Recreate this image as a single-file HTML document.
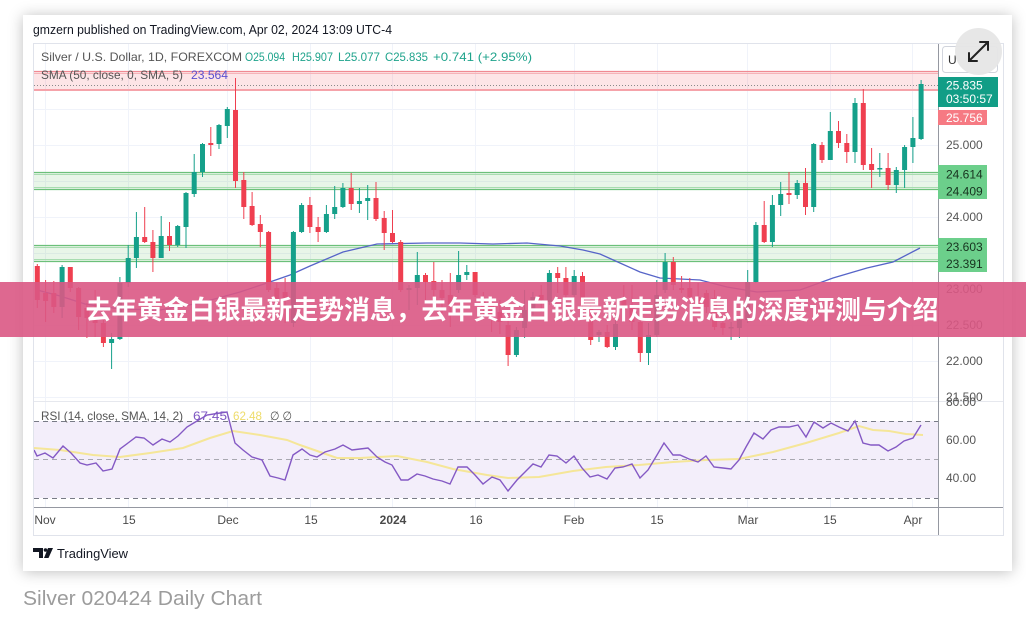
<!DOCTYPE html>
<html>
<head>
<meta charset="utf-8">
<style>
html,body{margin:0;padding:0;background:#fff;}
body{width:1026px;height:619px;position:relative;overflow:hidden;font-family:"Liberation Sans",sans-serif;}
.card{position:absolute;left:23px;top:15px;width:989px;height:556px;background:#fff;box-shadow:0 1px 14px rgba(0,0,0,0.26);}
svg{position:absolute;left:0;top:0;}
</style>
</head>
<body>
<div class="card"></div>
<svg width="1026" height="619" viewBox="0 0 1026 619" xmlns="http://www.w3.org/2000/svg" font-family="Liberation Sans, sans-serif">
<defs>
<clipPath id="pp"><rect x="34" y="44" width="904" height="357"/></clipPath>
<clipPath id="rp"><rect x="34" y="401" width="904" height="106"/></clipPath>
</defs>

<!-- header -->
<text x="33" y="34" font-size="12.5" fill="#131722" textLength="359" lengthAdjust="spacingAndGlyphs">gmzern published on TradingView.com, Apr 02, 2024 13:09 UTC-4</text>

<!-- frame -->
<rect x="33.5" y="43.5" width="970" height="492" fill="#fff" stroke="#e0e3eb"/>

<!-- grid -->
<g stroke="#f0f3fa" stroke-width="1">
<path d="M34 109.5H938M34 145.5H938M34 181.5H938M34 217.5H938M34 253.5H938M34 289.5H938M34 325.5H938M34 361.5H938M34 397.5H938"/>
<path d="M45.5 44V507M128.5 44V507M227.5 44V507M310.5 44V507M392.5 44V507M475.5 44V507M574.5 44V507M657.5 44V507M747.5 44V507M830.5 44V507M912.5 44V507"/>
<path d="M34 440.5H938M34 478.5H938"/>
</g>

<g clip-path="url(#pp)">
<!-- red zone -->
<rect x="34" y="71" width="904" height="20" fill="rgba(242,54,69,0.13)"/>
<path d="M34 71.5H938" stroke="#f08a93" stroke-width="1.2"/>
<path d="M34 73.5H938" stroke="#f6b3b9" stroke-width="1"/>
<path d="M34 90H938" stroke="#f5a3aa" stroke-width="2"/>
<path d="M34 85.5H938" stroke="#8a8a8a" stroke-width="1" stroke-dasharray="1,2"/>
<!-- green zones -->
<rect x="34" y="172" width="904" height="18" fill="rgba(76,175,80,0.13)"/>
<path d="M34 172.5H938M34 189.5H938" stroke="#6cc07a" stroke-width="1.3"/>
<path d="M34 174.5H938M34 187.5H938" stroke="#a8dcb0" stroke-width="1"/>
<rect x="34" y="245" width="904" height="17" fill="rgba(76,175,80,0.13)"/>
<path d="M34 245.5H938M34 261.5H938" stroke="#6cc07a" stroke-width="1.3"/>
<path d="M34 247.5H938M34 259.5H938" stroke="#a8dcb0" stroke-width="1"/>

<!-- SMA 50 -->
<polyline fill="none" stroke="#5664c8" stroke-width="1.3" points="37,290 60,296 85,304 120,309 160,310 200,303 240,292 267,283 290,275 310,266 343,252 377,244 427,243 460,243 493,244 527,243 560,246 583,250 600,254 620,263 640,272 660,278 700,280 727,287 757,292 800,290 833,278 867,268 893,262 920,248"/>

<!-- red candles -->
<path stroke="#ef3f50" stroke-width="1" fill="none" d="M37.3 264V308M45.6 280V322M53.8 281V313M70.3 267V292M78.6 287V330M86.9 303V338M95.1 290V337M103.4 320V347M144.7 207V243M152.9 230V272M169.5 222V251M210.8 127V156M235.5 78V188M243.8 172V219M252.1 192V226M260.3 215V247M268.6 231V292M276.8 283V307M285.1 278V323M309.9 197V233M318.1 217V242M351.2 173V210M376 182V221M384.2 211V250M392.5 210V243M400.7 240V292M425.5 273V300M433.8 262V300M442 280V313M450.3 273V327M475.1 272V297M483.3 292V318M491.6 298V332M499.9 300V334M508.1 317V366M541.2 285V312M557.7 267V293M565.9 267V300M582.5 272V308M590.7 305V345M607.2 325V348M623.8 285V322M632 285V330M640.3 317V362M673.3 257V290M681.6 276V293M689.8 278V300M698.1 283V308M706.4 290V313M714.6 290V330M722.9 318V335M764.2 201V243M789 172V204M805.5 168V215M822 142V163M838.5 121V148M846.8 134V163M863.3 89V170M871.6 148V188M888.1 153V190"/>
<g fill="#ef3f50">
<rect x="34.8" y="266" width="5" height="34"/><rect x="43.1" y="293" width="5" height="8"/><rect x="51.3" y="293" width="5" height="14"/><rect x="67.8" y="267" width="5" height="21"/><rect x="76.1" y="288" width="5" height="29"/><rect x="84.4" y="308" width="5" height="10"/><rect x="92.6" y="318" width="5" height="5"/><rect x="100.9" y="323" width="5" height="20"/><rect x="142.2" y="237" width="5" height="5"/><rect x="150.4" y="242" width="5" height="16"/><rect x="167" y="236" width="5" height="9"/><rect x="208.3" y="143" width="5" height="2"/><rect x="233" y="110" width="5" height="71"/><rect x="241.3" y="180" width="5" height="27"/><rect x="249.6" y="206" width="5" height="19"/><rect x="257.8" y="224" width="5" height="8"/><rect x="266.1" y="232" width="5" height="58"/><rect x="274.3" y="288" width="5" height="12"/><rect x="282.6" y="292" width="5" height="8"/><rect x="307.4" y="205" width="5" height="22"/><rect x="315.6" y="227" width="5" height="5"/><rect x="348.7" y="188" width="5" height="16"/><rect x="373.5" y="198" width="5" height="21"/><rect x="381.7" y="218" width="5" height="15"/><rect x="390" y="233" width="5" height="9"/><rect x="398.2" y="242" width="5" height="48"/><rect x="423" y="275" width="5" height="7"/><rect x="431.3" y="281" width="5" height="9"/><rect x="439.5" y="290" width="5" height="8"/><rect x="447.8" y="295" width="5" height="10"/><rect x="472.6" y="272" width="5" height="23"/><rect x="480.8" y="298" width="5" height="10"/><rect x="489.1" y="305" width="5" height="11"/><rect x="497.4" y="312" width="5" height="10"/><rect x="505.6" y="325" width="5" height="30"/><rect x="538.7" y="295" width="5" height="5"/><rect x="555.2" y="273" width="5" height="5"/><rect x="563.4" y="278" width="5" height="17"/><rect x="580" y="276" width="5" height="29"/><rect x="588.2" y="308" width="5" height="32"/><rect x="604.7" y="332" width="5" height="15"/><rect x="621.3" y="300" width="5" height="10"/><rect x="629.5" y="305" width="5" height="17"/><rect x="637.8" y="322" width="5" height="31"/><rect x="670.8" y="262" width="5" height="23"/><rect x="679.1" y="288" width="5" height="2"/><rect x="687.3" y="288" width="5" height="9"/><rect x="695.6" y="297" width="5" height="8"/><rect x="703.9" y="293" width="5" height="14"/><rect x="712.1" y="298" width="5" height="29"/><rect x="720.4" y="323" width="5" height="5"/><rect x="761.7" y="225" width="5" height="17"/><rect x="786.5" y="193" width="5" height="2"/><rect x="803" y="183" width="5" height="24"/><rect x="819.5" y="145" width="5" height="15"/><rect x="836" y="131" width="5" height="12"/><rect x="844.3" y="143" width="5" height="9"/><rect x="860.8" y="103" width="5" height="62"/><rect x="869.1" y="164" width="5" height="6"/><rect x="885.6" y="168" width="5" height="17"/>
</g>

<!-- teal candles -->
<path stroke="#15a08a" stroke-width="1" fill="none" d="M62.1 265V318M111.6 333V369M119.9 277V340M128.2 245V287M136.4 212V268M161.2 216V258M177.7 225V247M186 192V248M194.2 154V197M202.5 143V177M219 124V149M227.3 107V138M293.4 231V327M301.6 203V233M326.4 205V233M334.7 186V219M342.9 183V208M359.4 188V213M367.7 185V220M409 285V310M417.3 252V305M458.6 251V293M466.8 265V280M516.4 327V357M524.6 290V338M532.9 292V315M549.4 270V305M574.2 270V297M599 330V342M615.5 318V350M648.5 323V365M656.8 280V337M665.1 253V293M731.1 322V340M739.4 317V338M747.7 270V323M755.9 222V283M772.4 195V247M780.7 182V216M797.2 180V199M813.7 143V212M830.3 112V160M855 98V163M879.8 153V177M896.3 167V193M904.6 145V188M912.9 117V163M921.1 80V140"/>
<g fill="#15a08a">
<rect x="59.6" y="267" width="5" height="40"/><rect x="109.1" y="339" width="5" height="4"/><rect x="117.4" y="283" width="5" height="56"/><rect x="125.7" y="258" width="5" height="25"/><rect x="133.9" y="237" width="5" height="21"/><rect x="158.7" y="236" width="5" height="22"/><rect x="175.2" y="226" width="5" height="19"/><rect x="183.5" y="193" width="5" height="34"/><rect x="191.7" y="172" width="5" height="22"/><rect x="200" y="144" width="5" height="28"/><rect x="216.5" y="125" width="5" height="19"/><rect x="224.8" y="109" width="5" height="17"/><rect x="290.9" y="232" width="5" height="91"/><rect x="299.1" y="205" width="5" height="27"/><rect x="323.9" y="214" width="5" height="18"/><rect x="332.2" y="207" width="5" height="7"/><rect x="340.4" y="188" width="5" height="19"/><rect x="356.9" y="201" width="5" height="3"/><rect x="365.2" y="198" width="5" height="3"/><rect x="406.5" y="288" width="5" height="2"/><rect x="414.8" y="275" width="5" height="13"/><rect x="456.1" y="275" width="5" height="15"/><rect x="464.3" y="272" width="5" height="3"/><rect x="513.9" y="330" width="5" height="25"/><rect x="522.1" y="310" width="5" height="18"/><rect x="530.4" y="297" width="5" height="13"/><rect x="546.9" y="273" width="5" height="29"/><rect x="571.7" y="276" width="5" height="19"/><rect x="596.5" y="332" width="5" height="3"/><rect x="613" y="324" width="5" height="23"/><rect x="646" y="335" width="5" height="18"/><rect x="654.3" y="295" width="5" height="40"/><rect x="662.6" y="262" width="5" height="28"/><rect x="728.6" y="327" width="5" height="1.5"/><rect x="736.9" y="320" width="5" height="8"/><rect x="745.2" y="282" width="5" height="38"/><rect x="753.4" y="225" width="5" height="57"/><rect x="769.9" y="205" width="5" height="37"/><rect x="778.2" y="194" width="5" height="11"/><rect x="794.7" y="183" width="5" height="12"/><rect x="811.2" y="144" width="5" height="63"/><rect x="827.8" y="131" width="5" height="29"/><rect x="852.5" y="103" width="5" height="49"/><rect x="877.3" y="168" width="5" height="1.5"/><rect x="893.8" y="170" width="5" height="15"/><rect x="902.1" y="147" width="5" height="23"/><rect x="910.4" y="138" width="5" height="9"/><rect x="918.6" y="84" width="5" height="55"/>
</g>
</g>

<!-- legend -->
<text x="41" y="61" font-size="12" fill="#555" textLength="201" lengthAdjust="spacingAndGlyphs">Silver / U.S. Dollar, 1D, FOREXCOM</text>
<g font-size="12" fill="#1fa38c">
<text x="245" y="61" textLength="40" lengthAdjust="spacingAndGlyphs">O25.094</text>
<text x="292" y="61" textLength="41" lengthAdjust="spacingAndGlyphs">H25.907</text>
<text x="338" y="61" textLength="42" lengthAdjust="spacingAndGlyphs">L25.077</text>
<text x="385" y="61" textLength="43" lengthAdjust="spacingAndGlyphs">C25.835</text>
<text x="433" y="61" textLength="99" lengthAdjust="spacingAndGlyphs">+0.741 (+2.95%)</text>
</g>
<text x="41" y="79" font-size="12" fill="#555" textLength="142" lengthAdjust="spacingAndGlyphs">SMA (50, close, 0, SMA, 5)</text>
<text x="191" y="79" font-size="12" fill="#5a4fd0" textLength="37" lengthAdjust="spacingAndGlyphs">23.564</text>

<!-- pane separator -->
<path d="M34 401.5H1003" stroke="#e6e8ee" stroke-width="1"/>

<!-- RSI pane -->
<g clip-path="url(#rp)">
<rect x="34" y="421" width="904" height="77" fill="#f3eefa"/>
<path d="M34 421.5H938M34 498.5H938" stroke="#787b86" stroke-width="1" stroke-dasharray="5,4"/>
<path d="M34 459.5H938" stroke="#a8a8b0" stroke-width="1" stroke-dasharray="5,4"/>
<polyline fill="none" stroke="#f5e698" stroke-width="2" points="34,448 60,450 93,455 120,457 150,453 183,448 210,438 233,431 260,435 287,440 300,445 320,452 337,458 360,458 397,456 427,462 453,469 487,475 508,478 539,477 573,471 606,467 639,465 673,462 706,460 739,459 773,452 806,443 839,433 859,426 873,430 889,431 906,434 923,435"/>
<polyline fill="none" stroke="#8459c4" stroke-width="1.4" points="34,450 37,456 45,453 53,458 63,446 71,453 80,463 87,465 96,463 103,471 112,469 120,449 128,443 136,437 144,438 153,445 162,439 170,442 178,436 187,427 197,421 207,415 220,413 227,412 235,443 243,450 252,457 262,460 270,476 278,478 285,480 293,455 302,449 310,455 317,457 325,452 335,449 343,445 352,450 360,449 368,448 377,457 385,462 392,465 401,480 408,480 417,474 425,476 433,479 442,481 450,484 458,467 467,467 475,475 483,484 492,477 500,480 508,491 517,480 525,472 533,464 541,467 549,455 557,456 566,463 574,456 582,468 590,477 598,475 607,479 615,468 623,467 632,464 640,478 648,470 657,455 664,443 673,455 680,455 689,459 698,462 706,456 714,467 723,468 731,469 739,460 746,447 754,433 763,439 771,430 779,427 789,427 798,425 806,437 814,422 823,428 831,423 839,427 848,431 855,421 863,443 871,445 879,445 888,451 896,447 904,441 913,438 921,425"/>
</g>
<text x="41" y="420" font-size="12" fill="#555" textLength="142" lengthAdjust="spacingAndGlyphs">RSI (14, close, SMA, 14, 2)</text>
<text x="193" y="420" font-size="12" fill="#7e57c2" textLength="34" lengthAdjust="spacingAndGlyphs">67.45</text>
<text x="233" y="420" font-size="12" fill="#eedc6a" textLength="29" lengthAdjust="spacingAndGlyphs">62.48</text>
<text x="270" y="420" font-size="12" fill="#555" textLength="22" lengthAdjust="spacingAndGlyphs">∅  ∅</text>

<!-- axes lines -->
<path d="M938.5 44V535" stroke="#9598a1" stroke-width="1"/>
<path d="M34 507.5H1003" stroke="#9598a1" stroke-width="1"/>

<!-- right axis labels -->
<g font-size="12" fill="#555">
<text x="946" y="149">25.000</text>
<text x="946" y="221">24.000</text>
<text x="946" y="293">23.000</text>
<text x="946" y="329">22.500</text>
<text x="946" y="365">22.000</text>
<text x="946" y="401">21.500</text>
<text x="946" y="406">80.00</text>
<text x="946" y="444">60.00</text>
<text x="946" y="482">40.00</text>
</g>
<rect x="938" y="77" width="60" height="30" fill="#119d86"/>
<text x="946" y="89.5" font-size="12" fill="#fff">25.835</text>
<text x="946" y="103" font-size="12" fill="#fff">03:50:57</text>
<rect x="938" y="110" width="49" height="15" fill="#f67a83"/>
<text x="946" y="122" font-size="12" fill="#fff">25.756</text>
<rect x="938" y="165" width="49" height="34" fill="#6ccf8b"/>
<text x="946" y="178.5" font-size="12" fill="#17331f">24.614</text>
<text x="946" y="195.5" font-size="12" fill="#17331f">24.409</text>
<rect x="938" y="238" width="49" height="34" fill="#6ccf8b"/>
<text x="946" y="251" font-size="12" fill="#17331f">23.603</text>
<text x="946" y="268" font-size="12" fill="#17331f">23.391</text>

<!-- top-right button -->
<rect x="942.5" y="46.5" width="55" height="26" rx="3" fill="#fff" stroke="#d1d4dc"/>
<text x="948" y="64" font-size="12" fill="#333">U</text>
<circle cx="978.5" cy="51.5" r="23.5" fill="#e6e6e6" fill-opacity="0.95"/>
<g stroke="#222" stroke-width="2" fill="none" stroke-linecap="round">
<path d="M969 61L988 42"/>
<path d="M980 42H988V50"/>
<path d="M969 53V61H977"/>
</g>

<!-- time axis -->
<g font-size="12" fill="#4a4a4a" text-anchor="middle">
<text x="45" y="524">Nov</text>
<text x="129" y="524">15</text>
<text x="228" y="524">Dec</text>
<text x="311" y="524">15</text>
<text x="393" y="524" font-weight="bold">2024</text>
<text x="476" y="524">16</text>
<text x="574" y="524">Feb</text>
<text x="657" y="524">15</text>
<text x="748" y="524">Mar</text>
<text x="830" y="524">15</text>
<text x="913" y="524">Apr</text>
</g>

<!-- TradingView logo -->
<g fill="#131722">
<path d="M33 548H43V558H39V552H33Z"/>
<circle cx="45.5" cy="550" r="1.8"/>
<path d="M48 548H53L48.5 558H44Z"/>
</g>
<text x="57" y="558" font-size="13" fill="#131722" textLength="71" lengthAdjust="spacingAndGlyphs">TradingView</text>

<!-- caption -->
<text x="23" y="605" font-size="20" fill="#9c9c9c" textLength="239" lengthAdjust="spacingAndGlyphs">Silver 020424 Daily Chart</text>

<!-- banner -->
<rect x="0" y="282" width="1026" height="55" fill="rgba(218,88,132,0.9)"/>
<text x="512" y="319" font-size="26" font-weight="bold" fill="#fff" text-anchor="middle" font-family="Liberation Sans, Noto Sans CJK SC, sans-serif" textLength="853" lengthAdjust="spacingAndGlyphs">去年黄金白银最新走势消息，去年黄金白银最新走势消息的深度评测与介绍</text>
</svg>
</body>
</html>
